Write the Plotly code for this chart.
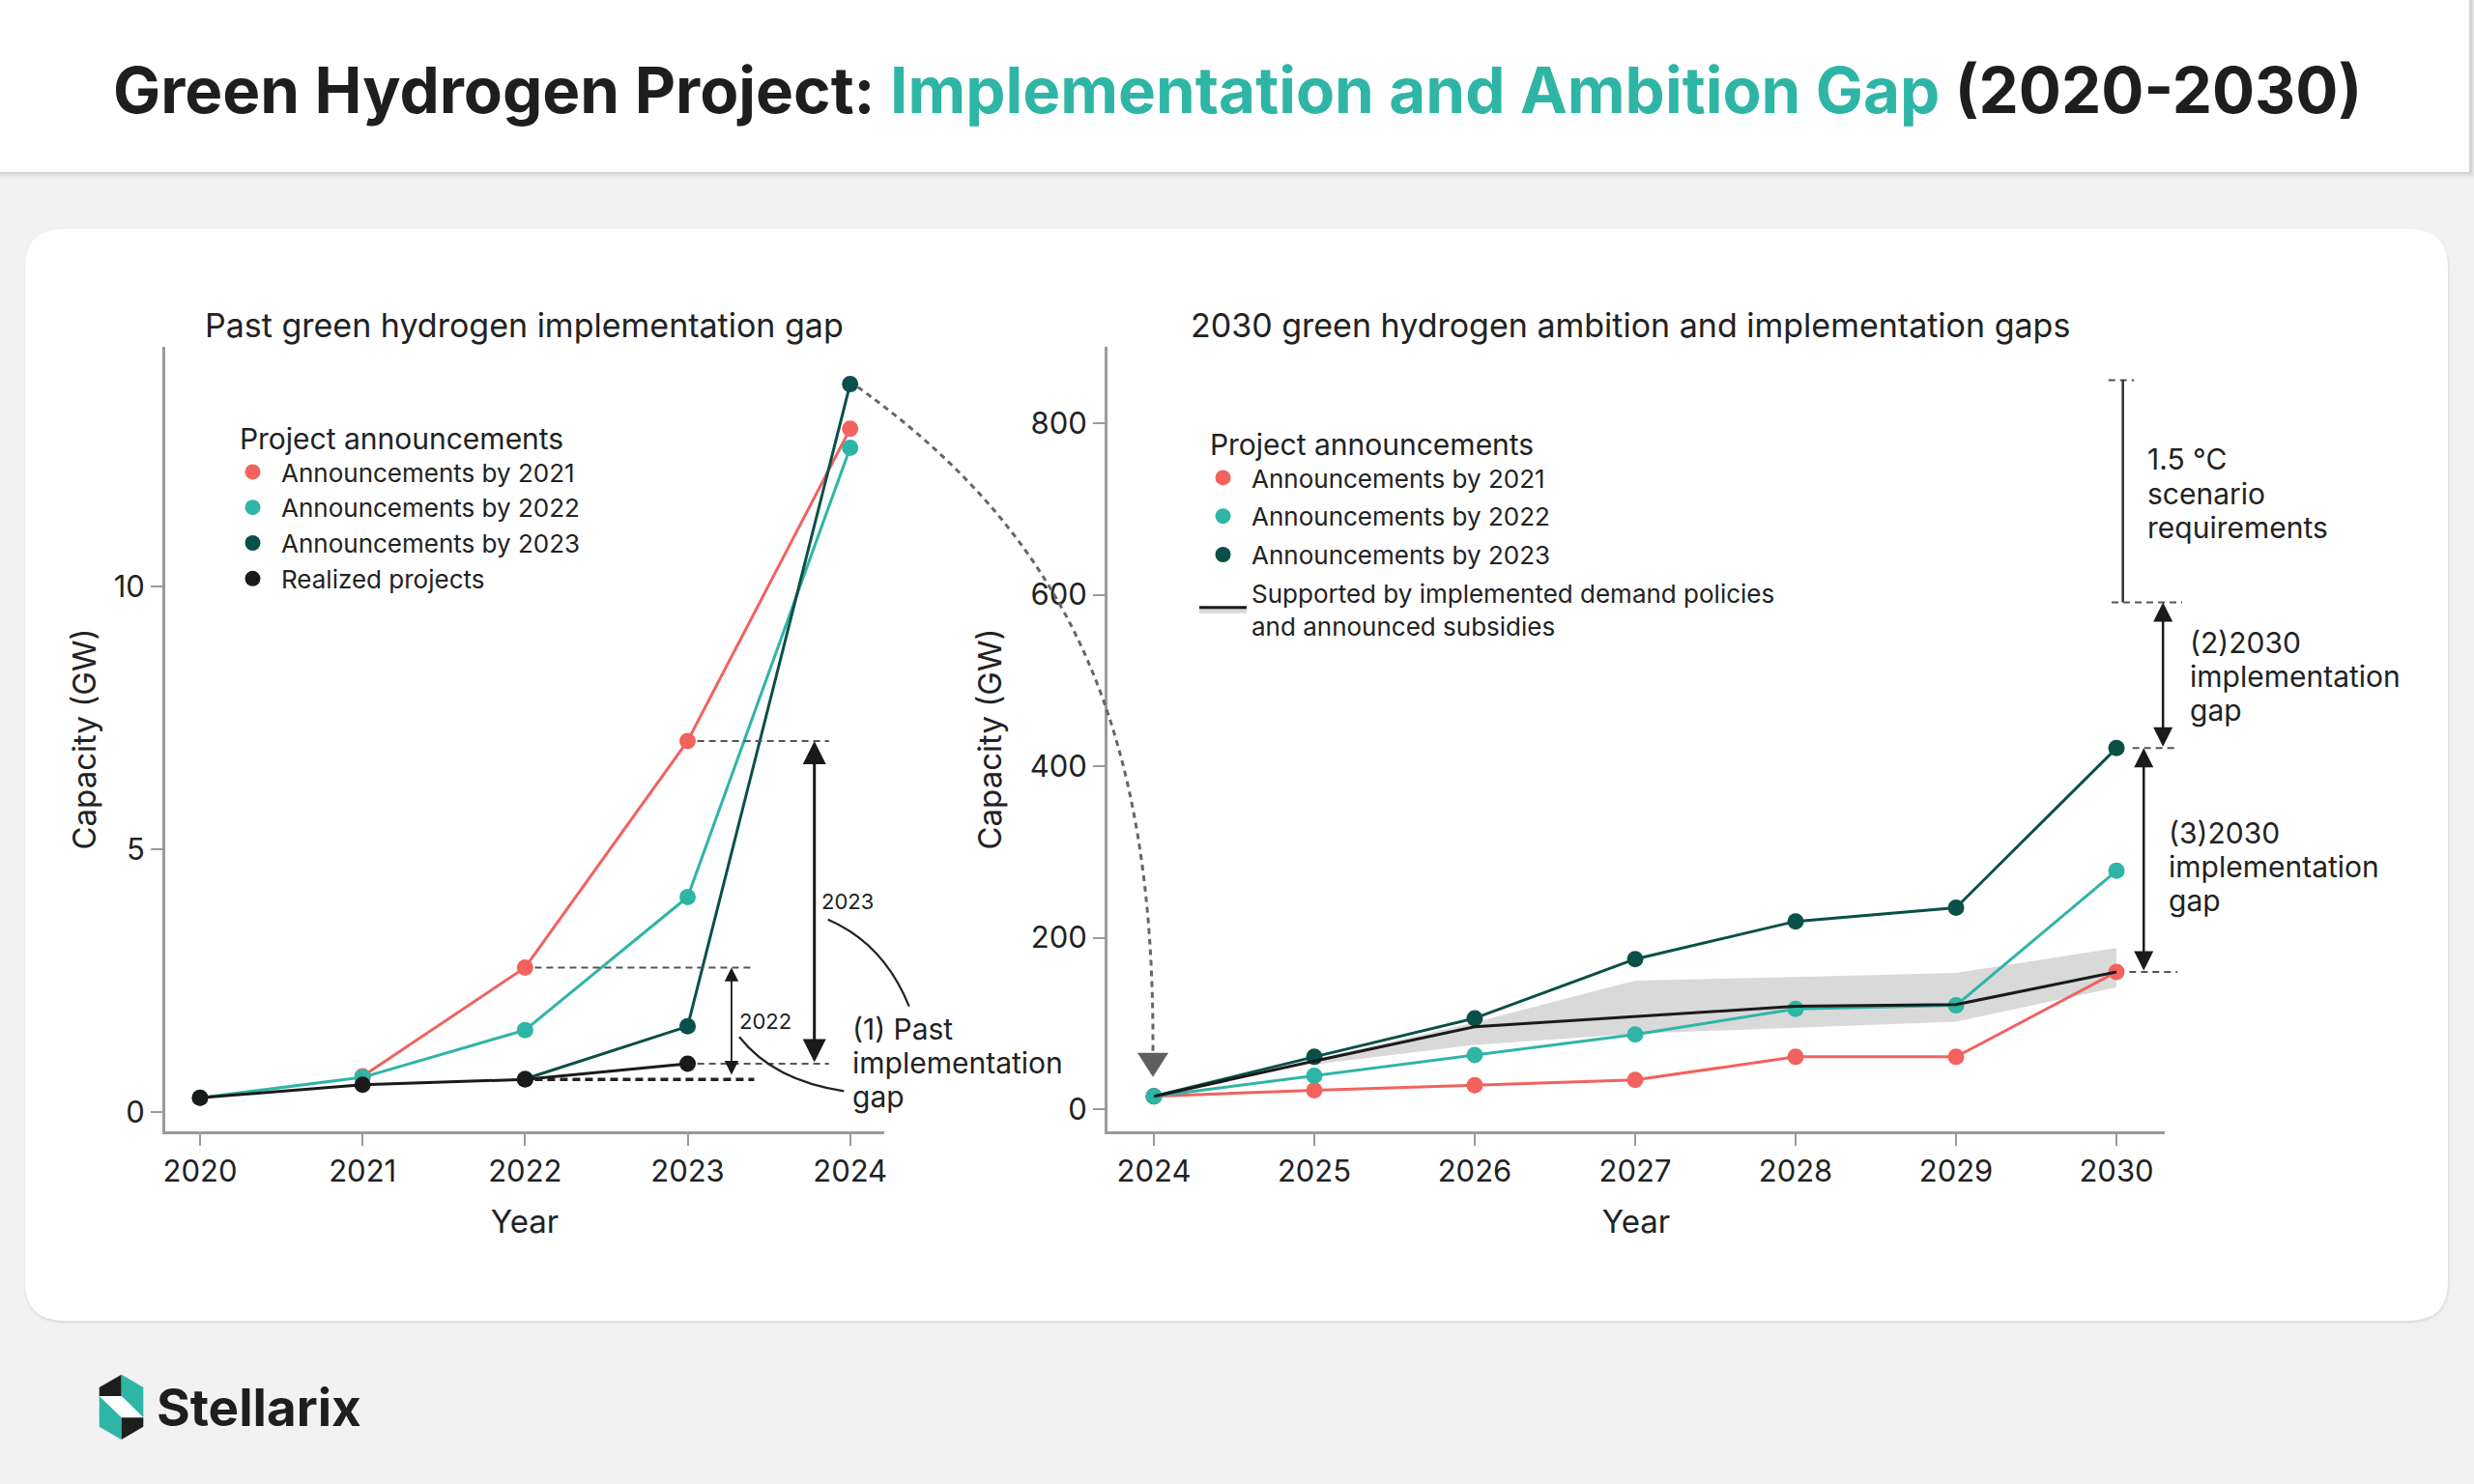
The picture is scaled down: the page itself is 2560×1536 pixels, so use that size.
import plotly.graph_objects as go

W, H = 2560, 1536
FONT = "Inter, Roboto, sans-serif"
TXT = "#222222"
RED = "#F2625E"
TEAL = "#2EB5A6"
DARK = "#0A5048"
BLACK = "#1A1A1A"
BAND = "#D9D9D9"
AXC = "#9A9A9A"

# ---------------- data ----------------
past_years = [2020, 2021, 2022, 2023, 2024]
past_ann2021_x = [2021, 2022, 2023, 2024]
past_ann2021 = [0.68, 2.75, 7.06, 13.0]
past_ann2022_x = [2020, 2021, 2022, 2023, 2024]
past_ann2022 = [0.27, 0.66, 1.56, 4.09, 12.64]
past_ann2023_x = [2022, 2023, 2024]
past_ann2023 = [0.63, 1.63, 13.85]
realized_x = [2020, 2021, 2022, 2023]
realized = [0.27, 0.52, 0.62, 0.92]
past_yticks = [0, 5, 10]

fut_years = [2024, 2025, 2026, 2027, 2028, 2029, 2030]
fut_ann2021 = [15, 22, 28, 34, 61, 61, 160]
fut_ann2022 = [15, 39, 63, 87, 117, 121, 278]
fut_ann2023 = [15, 61, 106, 175, 219, 235, 421]
supported = [15, 56, 96, 108, 120, 122, 160]
band_years = [2025, 2026, 2027, 2028, 2029, 2030]
band_upper = [58, 101, 150, 154, 159, 188]
band_lower = [52, 75, 88, 95, 102, 142]
fut_yticks = [0, 200, 400, 600, 800]

scenario_top = 850      # 1.5 °C scenario requirement upper bracket
scenario_low = 591      # lower end of 1.5 °C bracket

legend_names = ["Announcements by 2021", "Announcements by 2022", "Announcements by 2023"]

# ---------------- geometry helpers ----------------
LX_PX, LY_PX = (171, 915), (1171, 359)
RX_PX, RY_PX = (1146, 2240), (1171, 359)
L_XR, L_YR = [2019.786, 2024.21], [-0.368, 14.56]
R_XR, R_YR = [2023.711, 2030.301], [-25.9, 889]


def _map(v, rng, pxr):
    return pxr[0] + (v - rng[0]) / (rng[1] - rng[0]) * (pxr[1] - pxr[0])


def lpx(x, y):
    return _map(x, L_XR, LX_PX), _map(y, L_YR, LY_PX)


def rpx(x, y):
    return _map(x, R_XR, RX_PX), _map(y, R_YR, RY_PX)


def X(px):
    return px / W


def Y(py):
    return 1 - py / H


def pt(p):
    return f"{X(p[0]):.5f},{Y(p[1]):.5f}"


def rrect(x0, y0, x1, y1, r):
    return (f"M{pt((x0 + r, y0))} L{pt((x1 - r, y0))} Q{pt((x1, y0))} {pt((x1, y0 + r))} "
            f"L{pt((x1, y1 - r))} Q{pt((x1, y1))} {pt((x1 - r, y1))} L{pt((x0 + r, y1))} "
            f"Q{pt((x0, y1))} {pt((x0, y1 - r))} L{pt((x0, y0 + r))} Q{pt((x0, y0))} {pt((x0 + r, y0))} Z")


def poly(points):
    return "M" + " L".join(pt(p) for p in points) + " Z"


shapes = []


def pshape(path, fill=None, line_color=None, width=0, dash=None, layer="below"):
    d = dict(type="path", xref="paper", yref="paper", path=path, layer=layer,
             line=dict(width=width, color=line_color or "rgba(0,0,0,0)"))
    if dash:
        d["line"]["dash"] = dash
    if fill:
        d["fillcolor"] = fill
    shapes.append(d)


def pline(p0, p1, color="#555555", width=2, dash="7px,5px", layer="above"):
    shapes.append(dict(type="line", xref="paper", yref="paper", x0=X(p0[0]), y0=Y(p0[1]),
                       x1=X(p1[0]), y1=Y(p1[1]), layer=layer,
                       line=dict(color=color, width=width, dash=dash)))


# ---------------- background decorations ----------------
for i, a in enumerate([0.05, 0.035, 0.02, 0.01]):
    shapes.append(dict(type="rect", xref="paper", yref="paper", x0=0, x1=X(2558 + i),
                       y0=Y(178 + 2 * (i + 1)), y1=1, fillcolor=f"rgba(0,0,0,{a})",
                       line=dict(width=0), layer="below"))
shapes.append(dict(type="rect", xref="paper", yref="paper", x0=0, x1=X(2555), y0=Y(178), y1=1,
                   fillcolor="#FFFFFF", line=dict(width=0), layer="below"))
for i, a in enumerate([0.04, 0.025, 0.012]):
    pshape(rrect(26 - i, 237 - i + 2, 2533 + i + 1, 1367 + i + 2, 42), fill=f"rgba(0,0,0,{a})")
pshape(rrect(26, 237, 2533, 1367, 40), fill="#FFFFFF")

# Stellarix logo icon
T, UR, LR, B, LL, UL = (125.7, 1422.7), (148.3, 1436), (148.3, 1476.7), (125.7, 1490), (102.7, 1476.7), (102.7, 1436)
m1, m2, m3, m4 = (102.7, 1445), (125.7, 1445), (148.3, 1467.3), (125.7, 1467.3)
pshape(poly([T, UL, m1, m2]), fill="#1E1E1E", layer="above")
pshape(poly([T, UR, m3, m2]), fill=TEAL, layer="above")
pshape(poly([m1, m2, m3, m4]), fill="#FFFFFF", layer="above")
pshape(poly([m1, m4, B, LL]), fill=TEAL, layer="above")
pshape(poly([m4, m3, LR, B]), fill="#1E1E1E", layer="above")

# ---------------- traces ----------------
fig = go.Figure()
MS = 17


def line_trace(x, y, color, xa, ya, markers=True, width=3):
    return go.Scatter(x=x, y=y, mode="lines+markers" if markers else "lines",
                      line=dict(color=color, width=width), marker=dict(size=MS, color=color),
                      showlegend=False, hoverinfo="x+y", xaxis=xa, yaxis=ya)


# left chart
fig.add_trace(line_trace(past_ann2021_x, past_ann2021, RED, "x", "y"))
fig.add_trace(line_trace(past_ann2022_x, past_ann2022, TEAL, "x", "y"))
fig.add_trace(line_trace(past_ann2023_x, past_ann2023, DARK, "x", "y"))
fig.add_trace(line_trace(realized_x, realized, BLACK, "x", "y"))

# right chart
fig.add_trace(go.Scatter(x=band_years + band_years[::-1], y=band_upper + band_lower[::-1],
                         fill="toself", fillcolor=BAND, line=dict(width=0), mode="lines",
                         showlegend=False, hoverinfo="skip", xaxis="x2", yaxis="y2"))
fig.add_trace(line_trace(fut_years, fut_ann2021, RED, "x2", "y2"))
fig.add_trace(line_trace(fut_years, fut_ann2023, DARK, "x2", "y2"))
fig.add_trace(line_trace(fut_years, fut_ann2022, TEAL, "x2", "y2"))
fig.add_trace(line_trace(fut_years, supported, BLACK, "x2", "y2", markers=False))

# legend entries
for nm, c in zip(legend_names + ["Realized projects"], [RED, TEAL, DARK, BLACK]):
    fig.add_trace(go.Scatter(x=[None], y=[None], mode="markers", marker=dict(size=MS, color=c),
                             name=nm, legend="legend", xaxis="x", yaxis="y"))
for i, (nm, c) in enumerate(zip(legend_names, [RED, TEAL, DARK])):
    fig.add_trace(go.Scatter(x=[None], y=[None], mode="markers", marker=dict(size=MS, color=c),
                             name=nm, legend="legend2", legendgroup=f"r{i}", xaxis="x2", yaxis="y2"))
fig.add_trace(go.Scatter(x=[None], y=[None], mode="lines", fill="toself", fillcolor=BAND,
                         line=dict(color=BLACK, width=3), legendgroup="r3",
                         name="Supported by implemented demand policies<br>and announced subsidies",
                         legend="legend2", xaxis="x2", yaxis="y2"))

# ---------------- annotation lines (left) ----------------
pline(lpx(2022.06, past_ann2021[1]), lpx(2023.41, past_ann2021[1]))
pline(lpx(2023.06, past_ann2021[2]), lpx(2023.87, past_ann2021[2]))
pline(lpx(2023.06, realized[3]), lpx(2023.87, realized[3]))
pline(lpx(2022.06, realized[2]), lpx(2023.41, realized[2]), color="#222222", width=3.5, dash="8px,5px")

# curved leader lines
p0, c, p2 = (856.7, 951.7), (914.7, 976.7), (940.7, 1041.7)
pshape(f"M{pt(p0)} Q{pt(c)} {pt(p2)}", line_color="#222222", width=2.2, layer="above")
p0, c, p2 = (765, 1073.3), (800.8, 1118.7), (873.3, 1129.3)
pshape(f"M{pt(p0)} Q{pt(c)} {pt(p2)}", line_color="#222222", width=2.2, layer="above")

# connector from left chart 2024 to right chart 2024
s = lpx(2024, past_ann2023[2])
e = rpx(2024, fut_ann2023[0])
start = (s[0] + 8, s[1] + 3)
tip = (e[0] - 1, e[1] - 20)
base_y = tip[1] - 25
pshape(f"M{pt(start)} C{pt((1110, 560))} {pt((tip[0] + 2, 760))} {pt((tip[0], base_y))}",
       line_color="#666666", width=3, dash="6px,5px", layer="above")
pshape(poly([(tip[0] - 16, base_y), (tip[0] + 16, base_y), tip]), fill="#5E5E5E", layer="above")

# ---------------- annotation lines (right) ----------------
pline(rpx(2029.95, scenario_top), rpx(2030.11, scenario_top), width=2)
pline(rpx(2030.04, scenario_top), rpx(2030.04, scenario_low), color="#333333", width=2.5, dash="solid")
pline(rpx(2029.97, scenario_low), rpx(2030.41, scenario_low))
pline(rpx(2030.10, fut_ann2023[6]), rpx(2030.38, fut_ann2023[6]))
pline(rpx(2030.08, fut_ann2021[6]), rpx(2030.38, fut_ann2021[6]))

annotations = []


def darrow(x, y0, y1, xref, yref, width, size):
    annotations.append(dict(x=x, y=y1, ax=x, ay=y0, xref=xref, yref=yref, axref=xref, ayref=yref,
                            text="", showarrow=True, arrowside="end+start", arrowhead=2,
                            startarrowhead=2, arrowsize=size, startarrowsize=size,
                            arrowwidth=width, arrowcolor=BLACK))


darrow(2023.27, 0.68, past_ann2021[1], "x", "y", 1.8, 1.6)
darrow(2023.78, realized[3], past_ann2021[2], "x", "y", 3, 1.6)
darrow(2030.29, fut_ann2023[6], scenario_low, "x2", "y2", 2.5, 1.6)
darrow(2030.17, fut_ann2021[6], fut_ann2023[6], "x2", "y2", 2.5, 1.6)


def txt(text, xp, yp, size, xanchor="left", yanchor="middle", color=TXT, weight=None, align="left"):
    f = dict(family=FONT, size=size, color=color)
    if weight:
        f["weight"] = weight
    annotations.append(dict(text=text, x=X(xp), y=Y(yp), xref="paper", yref="paper",
                            xanchor=xanchor, yanchor=yanchor, showarrow=False, font=f, align=align))


def mtxt(lines, xp, ys, size=30):
    for t, yy in zip(lines, ys):
        txt(t, xp, yy, size)


txt("Green Hydrogen Project: <span style='color:#2EB5A6'>Implementation and Ambition Gap</span> (2020-2030)",
    1280, 93, 65.5, xanchor="center", weight=700, color="#1E1E1E")
txt("Past green hydrogen implementation gap", 542, 336, 34, xanchor="center")
txt("2030 green hydrogen ambition and implementation gaps", 1687, 336, 34, xanchor="center")
txt("2023", 848, 933, 22)
txt("2022", 763, 1057, 22)
mtxt(["(1) Past", "implementation", "gap"], 880, [1065, 1100, 1135])
mtxt(["1.5 °C", "scenario", "requirements"], 2220, [475, 511, 546])
mtxt(["(2)2030", "implementation", "gap"], 2264, [665, 700, 735])
mtxt(["(3)2030", "implementation", "gap"], 2242, [862, 897, 932])
txt("Stellarix", 160, 1457, 53, weight=700, color="#1E1E1E")

# ---------------- axes ----------------
axis_common = dict(showline=True, linecolor=AXC, linewidth=3, ticks="outside", ticklen=12,
                   tickwidth=2, tickcolor=AXC, showgrid=False, zeroline=False,
                   tickfont=dict(family=FONT, size=31, color=TXT), automargin=False)
tfont = dict(family=FONT, size=33, color=TXT)
LEG_TITLE = "\u00a0\u2009Project announcements"

fig.update_layout(
    width=W, height=H, margin=dict(l=0, r=0, t=0, b=0),
    paper_bgcolor="#F2F2F2", plot_bgcolor="rgba(0,0,0,0)",
    font=dict(family=FONT, color=TXT),
    shapes=shapes, annotations=annotations,
    xaxis=dict(domain=[X(LX_PX[0]), X(LX_PX[1])], range=L_XR, anchor="y", tickvals=past_years,
               title=dict(text="Year", font=tfont, standoff=24), **axis_common),
    yaxis=dict(domain=[Y(LY_PX[0]), Y(LY_PX[1])], range=L_YR, anchor="x", tickvals=past_yticks,
               title=dict(text="Capacity (GW)", font=tfont, standoff=9), **axis_common),
    xaxis2=dict(domain=[X(RX_PX[0]), X(RX_PX[1])], range=R_XR, anchor="y2", tickvals=fut_years,
                title=dict(text="Year", font=tfont, standoff=24), **axis_common),
    yaxis2=dict(domain=[Y(RY_PX[0]), Y(RY_PX[1])], range=R_YR, anchor="x2", tickvals=fut_yticks,
                title=dict(text="Capacity (GW)", font=tfont, standoff=20), **axis_common),
    legend=dict(x=X(232), y=Y(426), xanchor="left", yanchor="top", bgcolor="rgba(0,0,0,0)",
                font=dict(family=FONT, size=26, color=TXT), itemwidth=49,
                title=dict(text=LEG_TITLE, font=dict(family=FONT, size=30, color=TXT))),
    legend2=dict(x=X(1236), y=Y(432), xanchor="left", yanchor="top", bgcolor="rgba(0,0,0,0)",
                 font=dict(family=FONT, size=26, color=TXT), itemwidth=49, tracegroupgap=3,
                 title=dict(text=LEG_TITLE, font=dict(family=FONT, size=30, color=TXT))),
    hovermode="closest",
)

fig.write_html("out.html", config={"displayModeBar": False},
               post_script="document.body.style.margin='0';document.body.style.overflow='hidden';")
